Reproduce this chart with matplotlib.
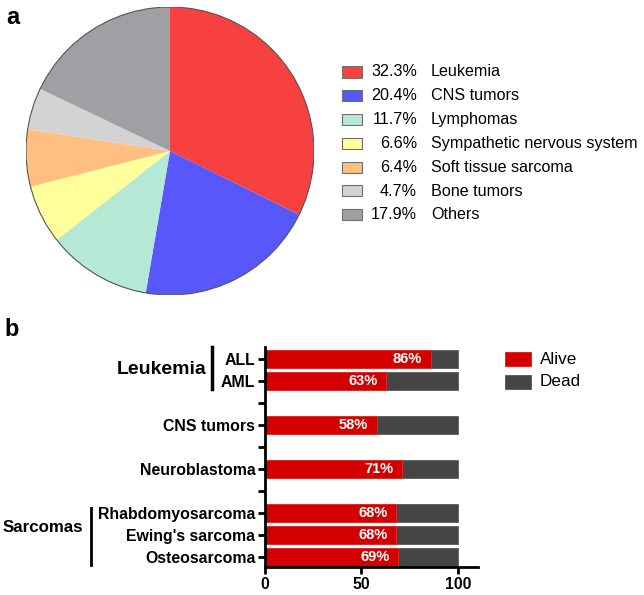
import numpy as np
import matplotlib.pyplot as plt
from matplotlib.patches import Rectangle

plt.rcParams['font.family'] = ['Liberation Sans', 'DejaVu Sans']

# panel a
pie_names = ['Leukemia', 'CNS tumors', 'Lymphomas', 'Sympathetic nervous system',
             'Soft tissue sarcoma', 'Bone tumors', 'Others']
pie_pct = [32.3, 20.4, 11.7, 6.6, 6.4, 4.7, 17.9]
pie_colors = ['#f74040', '#5757fa', '#b5e8d5', '#ffff9c', '#ffbf80', '#d3d3d3', '#a09fa4']

# panel b
bar_labels = ['ALL', 'AML', '', 'CNS tumors', '', 'Neuroblastoma', '',
              'Rhabdomyosarcoma', "Ewing's sarcoma", 'Osteosarcoma']
alive = [86, 63, None, 58, None, 71, None, 68, 68, 69]

W, H = 644, 595
fig = plt.figure(figsize=(W / 100, H / 100), dpi=100)

def fx(px):
    return px / W

def fy(py):
    return 1 - py / H

# ---- pie
r = 144
axp = fig.add_axes([fx(170 - r), fy(151 + r), fx(2 * r), 2 * r / H])
axp.pie(pie_pct, colors=pie_colors, startangle=90, counterclock=False,
        wedgeprops=dict(linewidth=0), radius=1)
axp.add_patch(plt.Circle((0, 0), 1, fill=False, ec='#555555', lw=0.8))
axp.set_xlim(-1, 1)
axp.set_ylim(-1, 1)
axp.set_aspect('equal')
axp.axis('off')

y0, dy = 72, 23.8
for i in range(len(pie_names)):
    yy = y0 + i * dy
    fig.patches.append(Rectangle((fx(342), fy(yy + 5.5)), fx(20), 11 / H,
                                 transform=fig.transFigure, fc=pie_colors[i],
                                 ec='#707070', lw=0.8))
    fig.text(fx(417), fy(yy), '%.1f%%' % pie_pct[i], ha='right', va='center', fontsize=11.6)
    fig.text(fx(431), fy(yy), pie_names[i], ha='left', va='center', fontsize=11.6)

fig.text(fx(6), fy(18), 'a', fontsize=17, fontweight='bold', va='center')
fig.text(fx(4), fy(330), 'b', fontsize=17, fontweight='bold', va='center')

# ---- bars
axb = fig.add_axes([fx(265), fy(567), fx(213), 220 / H])
ypos = np.arange(len(bar_labels))
for y, a in zip(ypos, alive):
    if a is None:
        continue
    axb.barh(y, 100, height=0.82, color='#454545', ec='#5a5a5a', lw=0.6)
    axb.barh(y, a, height=0.82, color='#d40000', ec='#e03030', lw=0.6)
    axb.text(a - 4.5, y, '%d%%' % a, color='white', fontweight='bold',
             ha='right', va='center', fontsize=10.5)

axb.set_ylim(9.45, -0.55)
axb.set_xlim(0, 110.5)
axb.set_yticks(ypos)
axb.set_yticklabels(bar_labels, fontweight='bold', fontsize=11.4)
axb.set_xticks([0, 50, 100])
axb.set_xticklabels(['0', '50', '100'], fontweight='bold', fontsize=11.4)
axb.spines['top'].set_visible(False)
axb.spines['right'].set_visible(False)
axb.spines['left'].set_linewidth(2)
axb.spines['bottom'].set_linewidth(2)
axb.tick_params(width=2, length=5, pad=2)

# group labels
fig.text(fx(206), fy(370), 'Leukemia', fontsize=14, fontweight='bold', ha='right', va='center')
fig.add_artist(plt.Line2D([fx(212), fx(212)], [fy(347), fy(389)], color='black', lw=2.5))
fig.text(fx(83), fy(527), 'Sarcomas', fontsize=12.2, fontweight='bold', ha='right', va='center')
fig.add_artist(plt.Line2D([fx(91), fx(91)], [fy(508), fy(565)], color='black', lw=2))

# legend b
for i, (lab, col) in enumerate([('Alive', '#d40000'), ('Dead', '#454545')]):
    yy = 359 + i * 23
    fig.patches.append(Rectangle((fx(505), fy(yy + 7)), fx(26), 14 / H,
                                 transform=fig.transFigure, fc=col, ec=col, lw=0.5))
    fig.text(fx(540), fy(yy), lab, ha='left', va='center', fontsize=12.3)

fig.savefig('out.png', dpi=100)
